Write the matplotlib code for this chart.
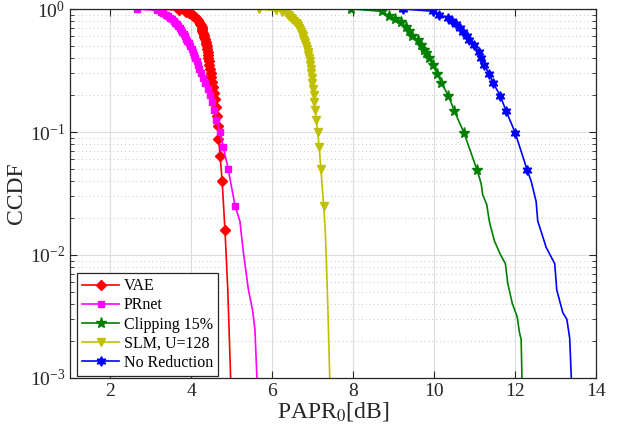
import matplotlib
matplotlib.use("Agg")
import matplotlib.pyplot as plt
from matplotlib.ticker import LogLocator, NullFormatter, FixedLocator

plt.rcParams['font.family'] = ['Liberation Serif', 'DejaVu Serif']
plt.rcParams['mathtext.fontset'] = 'stix'

# ---------------- data ----------------
# VAE (red, diamonds)
vae_x = [3.23, 3.70, 3.86, 3.95, 4.01, 4.05, 4.09, 4.13, 4.17, 4.19, 4.21, 4.23,
         4.25, 4.26, 4.27, 4.29, 4.30, 4.32, 4.33, 4.35, 4.36, 4.38, 4.39, 4.40,
         4.41, 4.42, 4.43, 4.44, 4.46, 4.48, 4.49, 4.51, 4.53, 4.56, 4.58, 4.60,
         4.63, 4.65, 4.67, 4.71, 4.76, 4.83]
vae_y = [1.0, 0.976, 0.952, 0.928, 0.904, 0.880, 0.856, 0.832, 0.808, 0.784, 0.760,
         0.736, 0.712, 0.688, 0.664, 0.640, 0.616, 0.592, 0.568, 0.544, 0.520,
         0.496, 0.472, 0.448, 0.424, 0.400, 0.376, 0.352, 0.328, 0.304, 0.280,
         0.256, 0.232, 0.208, 0.184, 0.160, 0.136, 0.112, 0.088, 0.064, 0.040, 0.016]
vae_tail_x = [4.90, 4.97]
vae_tail_y = [0.0052, 0.001]

# PRnet (magenta, squares)
prnet_x = [2.66, 3.16, 3.24, 3.31, 3.37, 3.42, 3.47, 3.51, 3.56, 3.60, 3.64, 3.68,
           3.71, 3.74, 3.78, 3.81, 3.84, 3.87, 3.90, 3.94, 3.97, 4.01, 4.04, 4.07,
           4.10, 4.13, 4.17, 4.20, 4.24, 4.29, 4.34, 4.40, 4.47, 4.52, 4.57, 4.62,
           4.71, 4.79, 4.91, 5.08]
prnet_y = [1.0, 0.975, 0.95, 0.925, 0.9, 0.875, 0.85, 0.825, 0.8, 0.775, 0.75, 0.725,
           0.7, 0.675, 0.65, 0.625, 0.6, 0.575, 0.55, 0.525, 0.5, 0.475, 0.45, 0.425,
           0.4, 0.375, 0.35, 0.325, 0.3, 0.275, 0.25, 0.225, 0.2, 0.175, 0.15, 0.125,
           0.1, 0.075, 0.05, 0.025]
prnet_tail_x = [5.20, 5.28, 5.41, 5.51, 5.57, 5.61, 5.62]
prnet_tail_y = [0.0188, 0.0108, 0.0052, 0.0036, 0.0025, 0.0012, 0.001]

# Clipping 15% (green, pentagrams)
clip_x = [7.95, 8.70, 8.88, 9.03, 9.17, 9.30, 9.38, 9.46, 9.59, 9.67, 9.75, 9.79,
          9.88, 9.96, 10.08, 10.18, 10.35, 10.50, 10.74, 11.06]
clip_y = [1.0, 0.958, 0.884, 0.83, 0.78, 0.71, 0.66, 0.60, 0.557, 0.508, 0.463, 0.435,
          0.397, 0.351, 0.297, 0.25, 0.198, 0.148, 0.098, 0.049]
clip_tail_x = [11.16, 11.20, 11.30, 11.35, 11.38, 11.49, 11.63, 11.76, 11.82, 11.93,
               12.05, 12.11, 12.15, 12.17]
clip_tail_y = [0.0383, 0.0309, 0.0257, 0.020, 0.0178, 0.013, 0.0102, 0.0085, 0.00586,
               0.00405, 0.00316, 0.00233, 0.00206, 0.001]

# SLM, U=128 (yellow, down triangles)
slm_x = [5.66, 6.10, 6.25, 6.34, 6.38, 6.41, 6.45, 6.49, 6.54, 6.58, 6.61, 6.64,
         6.66, 6.69, 6.71, 6.73, 6.75, 6.77, 6.79, 6.81, 6.83, 6.85, 6.87, 6.88,
         6.90, 6.92, 6.93, 6.95, 6.96, 6.97, 6.99, 7.00, 7.02, 7.04, 7.06, 7.09,
         7.12, 7.16, 7.20, 7.27]
slm_y = [1.0, 0.975, 0.95, 0.925, 0.9, 0.875, 0.85, 0.825, 0.8, 0.775, 0.75, 0.725,
         0.7, 0.675, 0.65, 0.625, 0.6, 0.575, 0.55, 0.525, 0.5, 0.475, 0.45, 0.425,
         0.4, 0.375, 0.35, 0.325, 0.3, 0.275, 0.25, 0.225, 0.2, 0.175, 0.15, 0.125,
         0.1, 0.075, 0.05, 0.025]
slm_tail_x = [7.31, 7.34, 7.37, 7.42]
slm_tail_y = [0.0157, 0.008, 0.004, 0.001]

# No Reduction (blue, hexagrams)
nored_x = [9.23, 9.98, 10.13, 10.33, 10.44, 10.54, 10.64, 10.72, 10.80, 10.87, 10.98,
           11.10, 11.16, 11.24, 11.36, 11.46, 11.63, 11.78, 12.00, 12.30]
nored_y = [1.0, 0.958, 0.9, 0.847, 0.806, 0.758, 0.704, 0.65, 0.604, 0.564, 0.51,
           0.449, 0.397, 0.351, 0.297, 0.25, 0.198, 0.148, 0.099, 0.049]
nored_tail_x = [12.40, 12.52, 12.56, 12.77, 12.98, 13.03, 13.18, 13.28, 13.35, 13.39]
nored_tail_y = [0.0395, 0.0273, 0.0189, 0.0115, 0.0085, 0.0052, 0.0034, 0.0030,
                0.0021, 0.001]

labels = ['VAE', 'PRnet', 'Clipping 15%', 'SLM, U=128', 'No Reduction']
xticks = [2, 4, 6, 8, 10, 12, 14]

# ---------------- plot ----------------
fig = plt.figure(figsize=(6.18, 4.29), dpi=100)
ax = fig.add_axes([70 / 618, 1 - 378 / 429, (596 - 70) / 618, (378 - 9) / 429])

series = [
    (vae_x, vae_y, vae_tail_x, vae_tail_y, 'red', 'D', 5),
    (prnet_x, prnet_y, prnet_tail_x, prnet_tail_y, 'magenta', 's', 5),
    (clip_x, clip_y, clip_tail_x, clip_tail_y, 'green', '*', 8),
    (slm_x, slm_y, slm_tail_x, slm_tail_y, '#c0c000', 'v', 6),
    (nored_x, nored_y, nored_tail_x, nored_tail_y, 'blue', (6, 1, 0), 7),
]
for (mx, my, tx, ty, col, mk, ms), lab in zip(series, labels):
    ax.plot(mx + tx, my + ty, color=col, lw=1.2, marker=mk, markersize=ms,
            markevery=list(range(len(mx))), markerfacecolor=col,
            markeredgecolor=col, label=lab)

ax.set_yscale('log')
ax.set_xlim(1, 14)
ax.set_ylim(1e-3, 1)
ax.xaxis.set_major_locator(FixedLocator(xticks))
ax.yaxis.set_major_locator(LogLocator(base=10, numticks=10))
ax.yaxis.set_minor_locator(LogLocator(base=10, subs=[2, 3, 4, 5, 6, 7, 8, 9], numticks=10))
ax.yaxis.set_minor_formatter(NullFormatter())

ax.grid(True, which='major', color='#dcdcdc', lw=0.8, ls='-')
ax.grid(True, which='minor', axis='y', color='#c8c8c8', lw=0.7, ls=(0, (1, 3)))
ax.set_axisbelow(True)

ax.tick_params(which='both', direction='in', top=True, right=True, colors='#262626',
               labelsize=14, labelcolor='#262626')
ax.tick_params(which='major', length=5)
ax.tick_params(which='minor', length=3)
for s in ax.spines.values():
    s.set_color('#262626')
    s.set_linewidth(0.9)

ax.set_xlabel(r'PAPR$_0$[dB]', fontsize=17, color='#262626', labelpad=0)
ax.set_ylabel('CCDF', fontsize=17, color='#262626', labelpad=2)

leg = ax.legend(loc='lower left', bbox_to_anchor=(0.014, 0.006), fontsize=11.5,
                frameon=True, fancybox=False, edgecolor='#262626', framealpha=1,
                handlelength=2.3, handletextpad=0.3, borderpad=0.3, labelspacing=0.2,
                borderaxespad=0)
leg.get_frame().set_linewidth(0.9)

fig.savefig('out.png', dpi=100)
